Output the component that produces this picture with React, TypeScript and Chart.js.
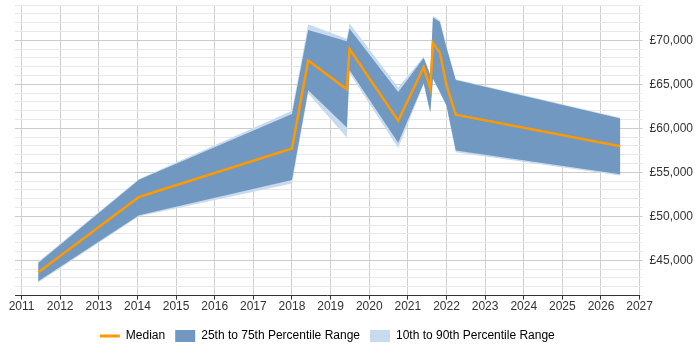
import { useEffect, useRef } from 'react';
import { Chart, registerables } from 'chart.js';

Chart.register(...registerables);

// Data (decimal years)
const years = [2011.43, 2014.04, 2018.0, 2018.42, 2019.42, 2019.49, 2020.75, 2021.41, 2021.58, 2021.65, 2021.83, 2022.0, 2022.24, 2026.5];
const median = [43630, 52200, 57700, 67690, 64430, 69010, 60850, 66930, 64510, 69700, 68550, 64890, 61550, 57970];
const p75 = [44700, 54160, 61630, 71150, 69880, 71310, 64120, 67970, 66040, 72580, 72080, 69160, 65470, 61120];
const p25 = [42630, 50120, 54130, 64310, 60080, 66620, 58350, 65120, 61810, 65660, 64120, 62580, 57470, 54780];
const p90 = [44850, 54250, 62000, 71810, 70160, 71930, 64630, 68150, 66160, 72790, 72270, 69270, 65580, 61200];
const p10 = [42480, 50000, 53740, 63970, 58930, 66270, 57770, 65000, 61720, 65580, 64030, 62470, 57280, 54630];

const xTickLabels = [2011, 2012, 2013, 2014, 2015, 2016, 2017, 2018, 2019, 2020, 2021, 2022, 2023, 2024, 2025, 2026, 2027];
const yTickLabels = [45000, 50000, 55000, 60000, 65000, 70000];
const yMin = 41000;
const yMax = 74000;
const yMinorStep = 1000;

const ORANGE = '#ff9900';
const DARK = '#7198c0';
const LIGHT = '#c8daee';
const FONT = 'Liberation Sans, Arial, sans-serif';

const pts = (vals: number[]) => years.map((x, i) => ({ x, y: vals[i] }));

export default function App() {
  const ref = useRef<HTMLCanvasElement | null>(null);

  useEffect(() => {
    if (!ref.current) return;
    const yGrid: number[] = [];
    for (let v = yMin; v <= yMax; v += yMinorStep) yGrid.push(v);

    const chart = new Chart(ref.current, {
      type: 'line',
      data: {
        datasets: [
          { label: 'Median', data: pts(median), borderColor: ORANGE, borderWidth: 2.5, pointRadius: 0, fill: false, tension: 0 },
          { label: 'p75', data: pts(p75), borderColor: 'rgba(0,0,0,0)', borderWidth: 0, backgroundColor: DARK, pointRadius: 0, fill: '+1' },
          { label: 'p25', data: pts(p25), borderColor: 'rgba(0,0,0,0)', borderWidth: 0, pointRadius: 0, fill: false },
          { label: 'p90', data: pts(p90), borderColor: 'rgba(0,0,0,0)', borderWidth: 0, backgroundColor: LIGHT, pointRadius: 0, fill: '+1' },
          { label: 'p10', data: pts(p10), borderColor: 'rgba(0,0,0,0)', borderWidth: 0, pointRadius: 0, fill: false },
        ],
      },
      options: {
        animation: false,
        responsive: true,
        maintainAspectRatio: false,
        layout: { padding: { left: 15, right: 0, top: 5, bottom: -2 } },
        plugins: {
          tooltip: { enabled: false },
          legend: {
            position: 'bottom',
            fullSize: false,
            onClick: () => {},
            labels: {
              usePointStyle: true,
              pointStyleWidth: 20,
              boxWidth: 20,
              boxHeight: 12,
              padding: 10,
              color: '#333',
              font: { size: 12, family: FONT },
              generateLabels: () => [
                { text: 'Median', fillStyle: ORANGE, strokeStyle: ORANGE, lineWidth: 3, pointStyle: 'line', hidden: false, datasetIndex: 0 },
                { text: '25th to 75th Percentile Range', fillStyle: DARK, strokeStyle: DARK, lineWidth: 0, pointStyle: 'rect', hidden: false, datasetIndex: 1 },
                { text: '10th to 90th Percentile Range', fillStyle: LIGHT, strokeStyle: LIGHT, lineWidth: 0, pointStyle: 'rect', hidden: false, datasetIndex: 3 },
              ] as any,
            },
          },
        },
        scales: {
          x: {
            type: 'linear',
            min: 2010.83,
            max: 2027,
            afterBuildTicks: (axis: any) => {
              axis.ticks = xTickLabels.map((v) => ({ value: v }));
            },
            afterFit: (axis: any) => {
              axis.height += 6;
            },
            ticks: {
              autoSkip: false,
              maxRotation: 0,
              padding: 0,
              color: '#333',
              font: { size: 12, family: FONT },
              callback: (v: any) => String(v),
            },
            grid: { color: '#d0d0d0', tickColor: '#333', tickLength: 4 },
            border: { color: '#333', width: 1 },
          },
          y: {
            type: 'linear',
            position: 'right',
            min: yMin,
            max: yMax,
            afterBuildTicks: (axis: any) => {
              axis.ticks = yGrid.map((v) => ({ value: v }));
            },
            afterFit: (axis: any) => {
              axis.paddingTop = 0;
              axis.paddingBottom = 0;
            },
            ticks: {
              autoSkip: false,
              padding: 7,
              color: '#333',
              font: { size: 12, family: FONT },
              callback: (v: any) => (yTickLabels.includes(v) ? '£' + Number(v).toLocaleString('en-GB') : ''),
            },
            grid: {
              color: (c: any) => (c.tick && c.tick.value % 5000 === 0 ? '#cccccc' : '#e8e8e8'),
              tickLength: 3,
            },
            border: { display: false },
          },
        },
      },
    });
    return () => chart.destroy();
  }, []);

  return (
    <div style={{ position: 'fixed', left: 0, top: 0, width: 700, height: 350 }}>
      <canvas ref={ref} />
    </div>
  );
}
